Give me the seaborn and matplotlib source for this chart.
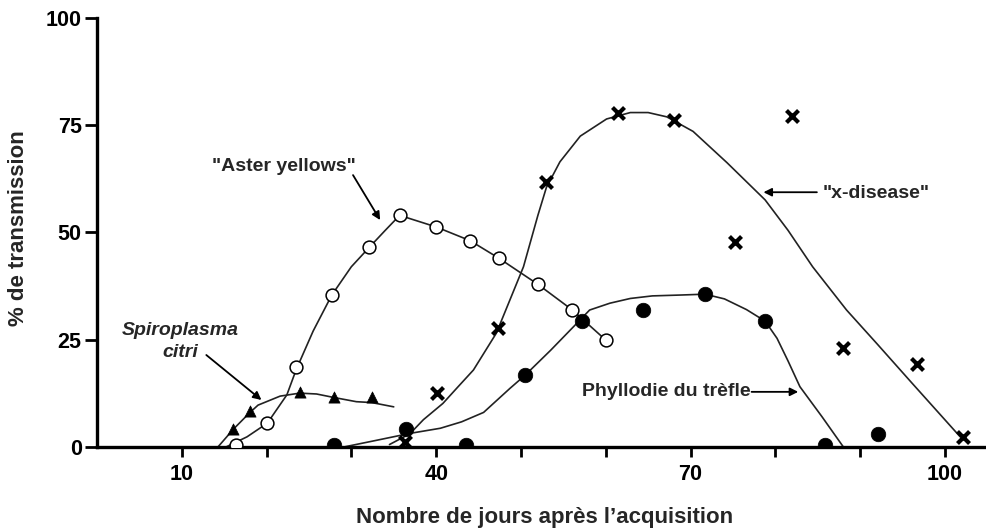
import seaborn as sns
import matplotlib
matplotlib.use("Agg")
import matplotlib.pyplot as plt

sns.set_style("ticks")
plt.rcParams['font.family'] = ['Liberation Sans', 'DejaVu Sans']
plt.rcParams['font.weight'] = 'bold'

# points mesurés (jours, % de transmission)
aster_x = [16.4, 20.1, 23.5, 27.7, 32.1, 35.7, 40.0, 44.0, 47.4, 52.0, 56.0, 60.0]
aster_y = [0.4, 5.5, 18.7, 35.4, 46.5, 54.0, 51.3, 48.1, 44.0, 37.9, 32.0, 24.9]
spiro_x = [16.1, 18.0, 23.9, 28.0, 32.4]
spiro_y = [4.1, 8.4, 12.8, 11.6, 11.6]
phyl_x = [28.0, 36.4, 43.5, 50.5, 57.2, 64.4, 71.7, 78.8, 85.9, 92.1]
phyl_y = [0.3, 4.2, 0.3, 16.7, 29.4, 31.9, 35.6, 29.3, 0.3, 2.9]
xdis_x = [36.3, 40.1, 47.3, 53.0, 61.5, 68.0, 75.2, 82.0, 88.0, 96.7, 102.1]
xdis_y = [1.0, 12.5, 27.8, 61.8, 78.0, 76.2, 47.7, 77.3, 23.0, 19.4, 2.3]

# courbes tracées à la main
aster_fit_x = [15.3, 17.7, 20.1, 22.4, 23.5, 25.5, 27.7, 30.0, 32.1, 34.0, 35.7, 40.0, 44.0, 47.4, 52.0, 56.0, 60.0]
aster_fit_y = [0, 2.3, 5.5, 12.1, 18.0, 27.0, 35.4, 42.0, 46.5, 50.5, 54.0, 51.3, 48.1, 44.0, 37.9, 32.0, 24.9]
spiro_fit_x = [14.3, 16.1, 18.0, 19.0, 21.6, 23.9, 25.9, 27.9, 30.6, 32.4, 35.0]
spiro_fit_y = [0, 4.1, 7.9, 9.7, 11.8, 12.5, 12.3, 11.5, 10.5, 10.3, 9.3]
phyl_fit_x = [29.3, 33.0, 36.9, 40.5, 43.0, 45.6, 48.7, 50.5, 53.5, 56.2, 58.1, 60.5, 62.9, 65.5, 68.8,
              71.7, 74.0, 76.6, 78.8, 80.2, 81.5, 82.9, 85.5, 88.0]
phyl_fit_y = [0, 1.5, 3.1, 4.3, 5.8, 8.0, 13.6, 16.7, 22.5, 28.0, 31.9, 33.5, 34.6, 35.2, 35.4,
              35.6, 34.5, 32.0, 29.3, 25.3, 20.0, 14.0, 7.0, 0]
xdis_fit_x = [34.5, 36.9, 38.5, 40.8, 42.5, 44.4, 47.1, 50.3, 52.0, 53.0, 54.6, 57.0, 60.1, 62.9, 65.0,
              67.2, 70.3, 74.3, 78.8, 81.5, 84.4, 88.4, 92.0, 96.0, 101.8]
xdis_fit_y = [0.5, 3.0, 6.3, 10.1, 13.8, 17.9, 26.5, 42.0, 54.0, 60.5, 66.5, 72.5, 76.5, 78.0, 78.0,
              77.0, 73.6, 66.3, 57.6, 50.5, 42.0, 31.9, 24.0, 15.1, 2.3]

x_ticks = [10, 20, 30, 40, 50, 60, 70, 80, 90, 100]
x_ticklabels = ['10', '', '', '40', '', '', '70', '', '', '100']
y_ticks = [0, 25, 50, 75, 100]

fig = plt.figure(figsize=(9.87, 5.31), dpi=100)
ax = fig.add_axes([0.0982, 0.1588, 0.8987, 0.8067])

lc = '#222222'
for fx, fy in [(aster_fit_x, aster_fit_y), (spiro_fit_x, spiro_fit_y),
               (phyl_fit_x, phyl_fit_y), (xdis_fit_x, xdis_fit_y)]:
    sns.lineplot(x=fx, y=fy, ax=ax, color=lc, linewidth=1.2, estimator=None, sort=False, zorder=2)

sns.scatterplot(x=aster_x, y=aster_y, ax=ax, marker='o', s=85, facecolor='white',
                edgecolor='black', linewidth=1.1, zorder=3)
sns.scatterplot(x=spiro_x, y=spiro_y, ax=ax, marker='^', s=65, color='black',
                edgecolor='black', linewidth=0.5, zorder=3)
sns.scatterplot(x=phyl_x, y=phyl_y, ax=ax, marker='o', s=110, color='black',
                edgecolor='black', linewidth=0.5, zorder=3)
sns.scatterplot(x=xdis_x, y=xdis_y, ax=ax, marker='x', s=75, color='black',
                linewidth=3.0, zorder=3)

ax.set_xlim(0, 104.6)
ax.set_ylim(0, 100)
sns.despine(ax=ax)
for s in ['left', 'bottom']:
    ax.spines[s].set_linewidth(2.4)
    ax.spines[s].set_color('black')
ax.set_xticks(x_ticks)
ax.set_xticklabels(x_ticklabels)
ax.set_yticks(y_ticks)
ax.tick_params(axis='both', direction='out', width=2, colors='black', labelsize=15.5)
ax.tick_params(axis='x', length=7.5, pad=5)
ax.tick_params(axis='y', length=9, pad=2)
for lab in ax.get_xticklabels() + ax.get_yticklabels():
    lab.set_fontweight('bold')

fig.text(0.552, 0.025, "Nombre de jours après l’acquisition", ha='center', va='center',
         fontsize=16, fontweight='bold')
fig.text(0.019, 0.571, "% de transmission", ha='center', va='center', rotation=90,
         fontsize=16, fontweight='bold')

arrow = dict(arrowstyle='-|>', color='black', lw=1.3, mutation_scale=12, shrinkA=0, shrinkB=0)
ax.text(22.0, 65.3, '"Aster yellows"', ha='center', va='center', fontsize=14, fontweight='bold')
ax.annotate('', xy=(33.4, 52.9), xytext=(30.2, 63.4), arrowprops=arrow)
ax.text(9.8, 27.2, 'Spiroplasma', ha='center', va='center', fontsize=14, fontweight='bold', style='italic')
ax.text(9.8, 22.1, 'citri', ha='center', va='center', fontsize=14, fontweight='bold', style='italic')
ax.annotate('', xy=(19.4, 10.9), xytext=(12.9, 21.4), arrowprops=arrow)
ax.text(91.9, 59.2, '"x-disease"', ha='center', va='center', fontsize=14, fontweight='bold')
ax.annotate('', xy=(78.6, 59.4), xytext=(84.9, 59.4), arrowprops=arrow)
ax.text(67.2, 12.8, 'Phyllodie du trèfle', ha='center', va='center', fontsize=14, fontweight='bold')
ax.annotate('', xy=(82.7, 12.8), xytext=(77.2, 12.8), arrowprops=arrow)

fig.savefig('out.png', dpi=100)
